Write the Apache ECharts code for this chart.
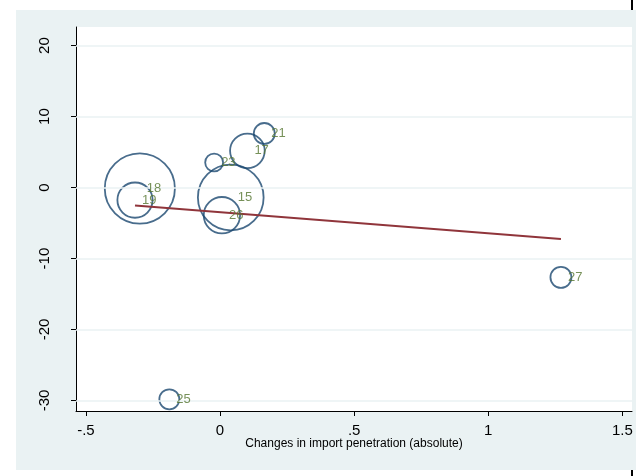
<!DOCTYPE html>
<html>
<head>
<meta charset="utf-8">
<script src="https://cdn.jsdelivr.net/npm/echarts@6/dist/echarts.min.js"></script>
<style>
  html, body { margin: 0; padding: 0; background: #ffffff; }
  #bg { position: absolute; left: 16px; top: 10px; width: 620px; height: 460px; background: #eaf2f3; }
  .blk { position: absolute; background: #000; width: 2px; left: 631px; }
  #chart { position: absolute; left: 0; top: 0; width: 636px; height: 476px; }
</style>
</head>
<body>
<div id="bg"></div>
<div class="blk" style="top:0;height:10px;"></div>
<div class="blk" style="top:470px;height:6px;"></div>
<div id="chart"></div>
<script>
// ---- data ----
const ids      = ['15', '17', '18', '19', '21', '23', '25', '26', '27'];
const xChange  = [0.040, 0.102, -0.299, -0.317, 0.165, -0.022, -0.189, 0.007, 1.271];
const yChange  = [-1.39, 5.17, -0.13, -1.77, 7.62, 3.53, -29.83, -3.89, -12.65];
const weights  = [10.8, 3.0, 12.3, 3.1, 1.1, 0.8, 1.0, 3.3, 1.1];
const fitX     = [-0.317, 1.271];
const fitY     = [-2.52, -7.26];
const xTicks   = [-0.5, 0, 0.5, 1, 1.5];
const xTickLabels = ['-.5', '0', '.5', '1', '1.5'];
const yTicks   = [-30, -20, -10, 0, 10, 20];
const xTitle   = 'Changes in import penetration (absolute)';

const FONT = "'Liberation Sans', Arial, Helvetica, sans-serif";
const points = ids.map((id, i) => [xChange[i], yChange[i], weights[i], id]);
const fitLine = fitX.map((x, i) => [x, fitY[i]]);

const chart = echarts.init(document.getElementById('chart'), null, { renderer: 'canvas' });
chart.setOption({
  backgroundColor: 'transparent',
  animation: false,
  grid: {
    left: 76, top: 27, right: 4, bottom: 65,
    show: true, backgroundColor: '#ffffff', borderWidth: 0
  },
  xAxis: {
    type: 'value',
    min: -0.537, max: 1.536,
    name: xTitle,
    nameLocation: 'middle',
    nameGap: 27,
    nameMoveOverlap: false,
    nameTextStyle: { fontFamily: FONT, fontSize: 12, color: '#000' },
    axisLine: { show: true, onZero: false, lineStyle: { color: '#000', width: 1 } },
    axisTick: { show: true, customValues: xTicks, length: 5, lineStyle: { color: '#000' } },
    axisLabel: {
      customValues: xTicks,
      margin: 12,
      fontFamily: FONT, fontSize: 15, color: '#000',
      formatter: v => { const i = xTicks.findIndex(t => Math.abs(t - v) < 1e-9); return i >= 0 ? xTickLabels[i] : ''; }
    },
    splitLine: { show: false }
  },
  yAxis: {
    type: 'value',
    min: -31.48, max: 22.62,
    axisLine: { show: true, onZero: false, lineStyle: { color: '#000', width: 1 } },
    axisTick: { show: true, customValues: yTicks, length: 5, lineStyle: { color: '#000' } },
    axisLabel: {
      customValues: yTicks,
      rotate: 90,
      margin: 24,
      fontFamily: FONT, fontSize: 15, color: '#000'
    },
    splitLine: { show: false }
  },
  series: [
    {
      name: 'grid',
      type: 'line',
      data: [],
      silent: true,
      z: 1,
      markLine: {
        silent: true,
        symbol: 'none',
        label: { show: false },
        lineStyle: { color: '#eaf2f3', width: 1.5, type: 'solid' },
        data: yTicks.map(v => ({ yAxis: v }))
      }
    },
    {
      name: 'bubbles',
      type: 'scatter',
      data: points,
      symbol: 'circle',
      symbolSize: d => 20 * Math.sqrt(d[2]),
      itemStyle: { color: 'rgba(0,0,0,0)', borderColor: '#1a476f', borderWidth: 1.8 },
      emphasis: { disabled: true },
      silent: true,
      z: 3
    },
    {
      name: 'fit',
      type: 'line',
      data: fitLine,
      symbol: 'none',
      lineStyle: { color: '#90353b', width: 2 },
      silent: true,
      z: 4
    },
    {
      name: 'labels',
      type: 'scatter',
      data: points,
      symbolSize: 0,
      itemStyle: { color: 'rgba(0,0,0,0)' },
      label: {
        show: true,
        position: 'right',
        distance: 7,
        formatter: p => p.data[3],
        fontFamily: FONT, fontSize: 13, color: '#55752f'
      },
      emphasis: { disabled: true },
      silent: true,
      z: 5
    }
  ]
});
</script>
</body>
</html>
